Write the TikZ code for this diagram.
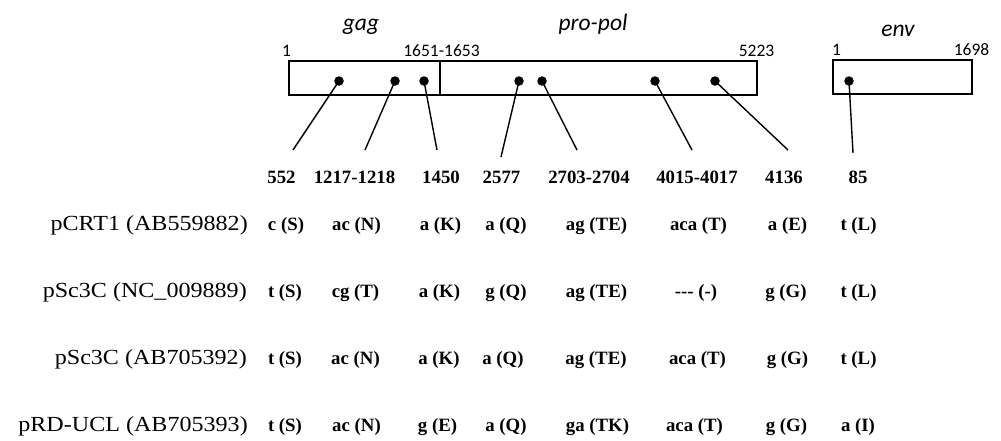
\documentclass[tikz,border=0pt]{standalone}
\usepackage{fontspec}
\setmainfont{Liberation Serif}
\newfontfamily\lblfont[FakeStretch=1.12]{Liberation Serif}
\newfontfamily\sansfont{Carlito}
\begin{document}
\begin{tikzpicture}[x=1pt,y=-1pt,
  genebox/.style={draw=black,line width=2.9pt},
  site/.style={circle,fill=black,inner sep=0pt,minimum size=9.5pt},
  lead/.style={draw=black,line width=1.4pt},
  genename/.style={anchor=base,inner sep=0pt,font=\sansfont\itshape\fontsize{23.5}{26}\selectfont},
  coord/.style={anchor=base,inner sep=0pt,font=\sansfont\fontsize{17.5}{20}\selectfont},
  posnum/.style={anchor=base,inner sep=0pt,font=\bfseries\fontsize{18.8}{21}\selectfont},
  cell/.style={anchor=base,inner sep=0pt,font=\bfseries\fontsize{18.8}{21}\selectfont},
  strain/.style={anchor=base east,inner sep=0pt,font=\lblfont\fontsize{21.5}{24}\selectfont}]
\useasboundingbox (0,0) rectangle (1001,440);
% gene boxes
\draw[genebox] (289,61) rectangle (757,95);
\draw[genebox] (440,61) -- (440,95);
\draw[genebox] (833,60) rectangle (972,94);
% gene names
\node[genename] (gag) at (361,30) {gag};
\node[genename] (propol) at (593,30) {pro-pol};
\node[genename] (env) at (898,36) {env};
% coordinates above boxes
\node[coord] (c1) at (286.5,56) {1};
\node[coord] (c1651) at (441.5,56) {1651-1653};
\node[coord] (c5223) at (756.5,56) {5223};
\node[coord] (e1) at (836.5,55) {1};
\node[coord] (e1698) at (971.5,55) {1698};
% sites
\node[site] (s552) at (339,81) {};
\node[site] (s1217) at (395,81) {};
\node[site] (s1450) at (424,81) {};
\node[site] (s2577) at (519,81) {};
\node[site] (s2703) at (542,81) {};
\node[site] (s4015) at (655,81) {};
\node[site] (s4136) at (715,81) {};
\node[site] (s85) at (849,81) {};
% lead ends
\coordinate (t552) at (293,150);
\coordinate (t1217) at (365,150);
\coordinate (t1450) at (437,150);
\coordinate (t2577) at (501,157);
\coordinate (t2703) at (577,150);
\coordinate (t4015) at (692,150);
\coordinate (t4136) at (788,150);
\coordinate (t85) at (853,153);
\draw[lead] (s552.center) -- (t552);
\draw[lead] (s1217.center) -- (t1217);
\draw[lead] (s1450.center) -- (t1450);
\draw[lead] (s2577.center) -- (t2577);
\draw[lead] (s2703.center) -- (t2703);
\draw[lead] (s4015.center) -- (t4015);
\draw[lead] (s4136.center) -- (t4136);
\draw[lead] (s85.center) -- (t85);
% position numbers
\node[posnum] (n552) at (281.5,183) {552};
\node[posnum] (n1217) at (354.5,183) {1217-1218};
\node[posnum] (n1450) at (441,183) {1450};
\node[posnum] (n2577) at (501.5,183) {2577};
\node[posnum] (n2703) at (589,183) {2703-2704};
\node[posnum] (n4015) at (697,183) {4015-4017};
\node[posnum] (n4136) at (784,183) {4136};
\node[posnum] (n85) at (858,183) {85};
% strains
\node[strain] (r1) at (248,230) {pCRT1 (AB559882)};
\node[strain] (r2) at (247,297) {pSc3C (NC\_009889)};
\node[strain] (r3) at (247,364) {pSc3C (AB705392)};
\node[strain] (r4) at (248,431) {pRD-UCL (AB705393)};
% row 1
\node[cell] (a1) at (286,230) {c (S)};
\node[cell] (a2) at (356.5,230) {ac (N)};
\node[cell] (a3) at (440.5,230) {a (K)};
\node[cell] (a4) at (506,230) {a (Q)};
\node[cell] (a5) at (596.5,230) {ag (TE)};
\node[cell] (a6) at (698.5,230) {aca (T)};
\node[cell] (a7) at (787.5,230) {a (E)};
\node[cell] (a8) at (858.5,230) {t (L)};
% row 2
\node[cell] (b1) at (285,297) {t (S)};
\node[cell] (b2) at (355.5,297) {cg (T)};
\node[cell] (b3) at (439.5,297) {a (K)};
\node[cell] (b4) at (506,297) {g (Q)};
\node[cell] (b5) at (596.5,297) {ag (TE)};
\node[cell] (b6) at (696,297) {-{}-{}- (-)};
\node[cell] (b7) at (786,297) {g (G)};
\node[cell] (b8) at (858.5,297) {t (L)};
% row 3
\node[cell] (c1r) at (285,364) {t (S)};
\node[cell] (c2r) at (355.5,364) {ac (N)};
\node[cell] (c3r) at (439,364) {a (K)};
\node[cell] (c4r) at (503,364) {a (Q)};
\node[cell] (c5r) at (596,364) {ag (TE)};
\node[cell] (c6r) at (697.5,364) {aca (T)};
\node[cell] (c7r) at (787.5,364) {g (G)};
\node[cell] (c8r) at (858.5,364) {t (L)};
% row 4
\node[cell] (d1) at (285,431) {t (S)};
\node[cell] (d2) at (356.5,431) {ac (N)};
\node[cell] (d3) at (437.5,431) {g (E)};
\node[cell] (d4) at (506,431) {a (Q)};
\node[cell] (d5) at (597.5,431) {ga (TK)};
\node[cell] (d6) at (694.5,431) {aca (T)};
\node[cell] (d7) at (786.5,431) {g (G)};
\node[cell] (d8) at (858,431) {a (I)};
\end{tikzpicture}
\end{document}
